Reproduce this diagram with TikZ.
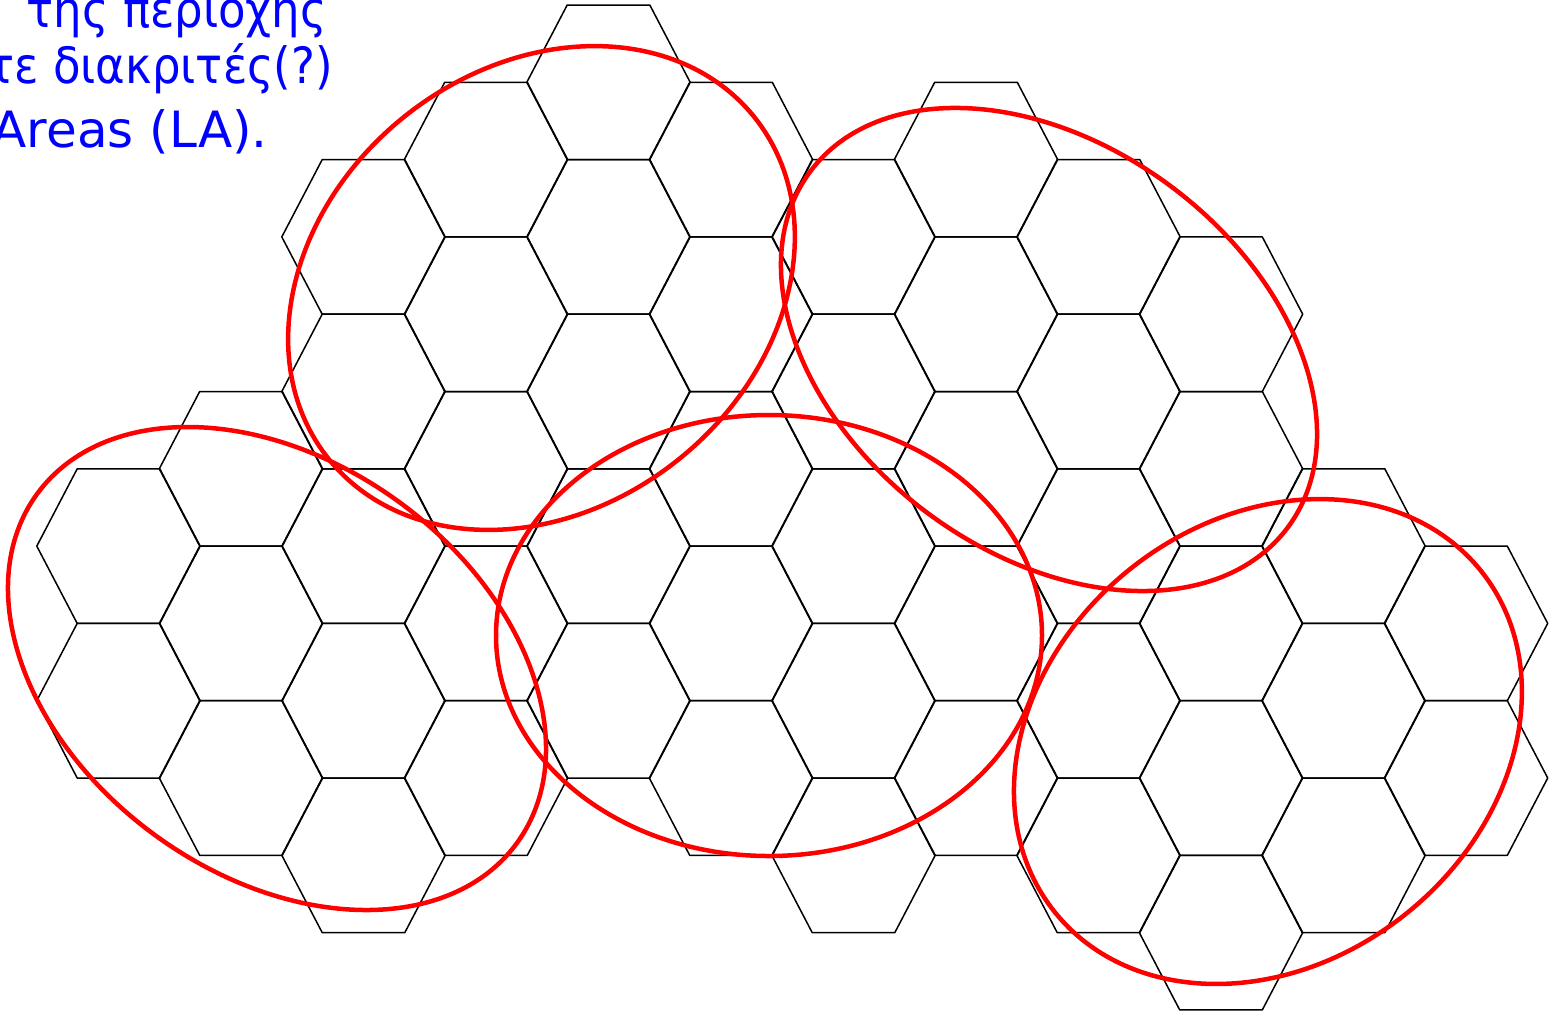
\documentclass[tikz,border=0pt]{standalone}
\usepackage{fontspec}
\newfontfamily\lblfont{DejaVu Sans}
\begin{document}
\begin{tikzpicture}[x=1pt,y=-1pt,
  hexcell/.style={draw=black,line width=1.5pt,line join=round},
  zone/.style={draw=red,line width=4.5pt},
  note/.style={anchor=base east,text=blue,inner sep=0pt,font=\lblfont\fontsize{50}{60}\selectfont}]
\useasboundingbox (0,0) rectangle (1554,1013);
% hexagonal cells (column / half-row index)
\foreach \c/\r in {0/7,0/9, 1/6,1/8,1/10, 2/3,2/5,2/7,2/9,2/11, 3/2,3/4,3/6,3/8,3/10,
  4/1,4/3,4/5,4/7,4/9, 5/2,5/4,5/6,5/8,5/10, 6/3,6/5,6/7,6/9,6/11,
  7/2,7/4,7/6,7/8,7/10, 8/3,8/5,8/7,8/9,8/11, 9/4,9/6,9/8,9/10,9/12,
  10/7,10/9,10/11, 11/8,11/10}{
  \pgfmathsetmacro\cx{118.5+122.5*\c}
  \pgfmathsetmacro\cy{5+77.3*\r}
  \draw[hexcell] (\cx-81.7,\cy) -- (\cx-41.3,\cy-77.3) -- (\cx+41.3,\cy-77.3)
     -- (\cx+81.7,\cy) -- (\cx+41.3,\cy+77.3) -- (\cx-41.3,\cy+77.3) -- cycle;
}
% location areas
\coordinate (la1) at (541.5,288);
\coordinate (la2) at (1049,349.5);
\coordinate (la3) at (277,668.5);
\coordinate (la4) at (769,635.5);
\coordinate (la5) at (1268,741.5);
\draw[zone,rotate around={38.8:(la1)}] (la1) ellipse [x radius=273pt,y radius=219.5pt];
\draw[zone,rotate around={-36.7:(la2)}] (la2) ellipse [x radius=297.8pt,y radius=203.7pt];
\draw[zone,rotate around={-36:(la3)}] (la3) ellipse [x radius=296.7pt,y radius=206.5pt];
\draw[zone] (la4) ellipse [x radius=273pt,y radius=220.5pt];
\draw[zone,rotate around={38.6:(la5)}] (la5) ellipse [x radius=273pt,y radius=220.8pt];
% caption fragments
\node[note] (l1) at (327,27) {\scalebox{0.9}[1]{της περιοχής}};
\node[note] (l2) at (333,83) {\scalebox{0.9}[1]{τε διακριτές(?)}};
\node[note] (l3) at (268,147) {Areas (LA).};
\end{tikzpicture}
\end{document}
